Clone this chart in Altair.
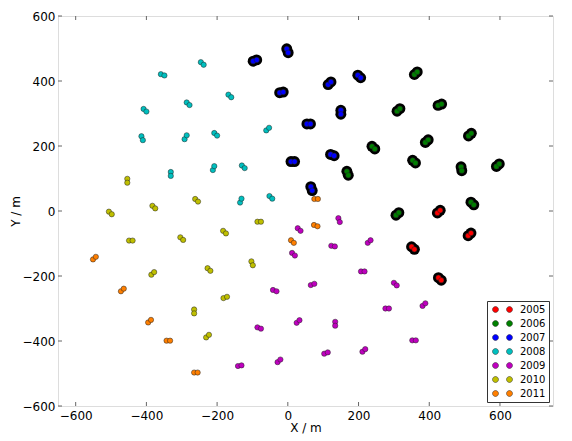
import altair as alt
import pandas as pd

# ---- data: two readings per station (x, y in metres) ----
years = ["2005", "2006", "2007", "2008", "2009", "2010", "2011"]
colors = ["#ff0000", "#008000", "#0000ff", "#00bfbf", "#bf00bf", "#bfbf00", "#ff7f00"]

x_2005 = [423, 431, 510, 518, 350, 358, 426, 434]
y_2005 = [-6, 2, -76, -68, -110, -118, -205, -213]

x_2006 = [358, 366, 309, 317, 425, 435, 238, 246, 389, 397, 511, 519,
          353, 361, 167, 171, 490, 492, 590, 598, 518, 526, 306, 314]
y_2006 = [420, 428, 307, 315, 325, 329, 199, 191, 211, 219, 231, 239,
          156, 148, 122, 110, 136, 124, 137, 145, 27, 19, -13, -5]

x_2007 = [-98, -88, -3, 1, -23, -13, 114, 122, 198, 206,
          150, 150, 54, 64, 9, 19, 121, 131, 65, 69]
y_2007 = [461, 465, 499, 487, 364, 366, 389, 397, 418, 410,
          310, 298, 268, 268, 152, 152, 174, 170, 75, 63]

x_2008 = [-246, -238, -359, -349, -168, -160, -286, -278, -408, -400, -61, -53, -414, -410,
          -292, -286, -208, -200, -331, -331, -212, -208, -130, -122, -135, -131, -52, -44]
y_2008 = [458, 450, 421, 417, 358, 350, 334, 326, 314, 306, 248, 256, 230, 218,
          221, 233, 240, 232, 120, 108, 126, 138, 140, 132, 26, 38, 46, 38]

x_2009 = [28, 36, 143, 147, 12, 20, 123, 133, 226, 234, 207, 217, 300, 308, -42, -32,
          65, 75, 276, 286, 381, 389, -86, -76, 25, 33, 134, 134, 352, 362, 103, 113,
          211, 219, -29, -21, -141, -131]
y_2009 = [-53, -61, -22, -34, -129, -137, -107, -109, -98, -90, -186, -186, -221, -229, -243, -247,
          -228, -224, -300, -300, -292, -284, -358, -362, -344, -336, -341, -353, -398, -398, -439, -435,
          -433, -425, -465, -457, -477, -475]

x_2010 = [-454, -454, -506, -498, -383, -375, -262, -254, -86, -76, -449, -439, -304, -296,
          -183, -175, -103, -99, -227, -219, -386, -378, -182, -172, -265, -265, -231, -223]
y_2010 = [99, 87, -2, -10, 16, 8, 37, 29, -33, -33, -91, -91, -81, -89,
          -61, -69, -155, -167, -176, -184, -196, -188, -268, -264, -303, -315, -389, -381]

x_2011 = [75, 85, 74, 84, 9, 17, -551, -543, -472, -464, -395, -387, -343, -333, -265, -255]
y_2011 = [37, 37, -43, -47, -90, -98, -149, -141, -247, -239, -343, -335, -399, -399, -497, -497]

tick_values = [-600, -400, -200, 0, 200, 400, 600]

xs = [x_2005, x_2006, x_2007, x_2008, x_2009, x_2010, x_2011]
ys = [y_2005, y_2006, y_2007, y_2008, y_2009, y_2010, y_2011]
rows = []
for yr, xl, yl in zip(years, xs, ys):
    for a, b in zip(xl, yl):
        rows.append({"year": yr, "x": a, "y": b})
df = pd.DataFrame(rows)
df_old = df[df["year"].isin(["2005", "2006", "2007"])]
ticks = pd.DataFrame({"t": tick_values})

W, H = 495, 390
frame = "#666666"

xscale = alt.Scale(domain=[-650, 750], nice=False, zero=False)
yscale = alt.Scale(domain=[-600, 600], nice=False, zero=False)

two_dots = ("M -0.6,0 A 0.6,0.6 0 1,0 0.6,0 A 0.6,0.6 0 1,0 -0.6,0 Z "
            "M 2.2,0 A 0.6,0.6 0 1,0 3.4,0 A 0.6,0.6 0 1,0 2.2,0 Z")

xaxis = alt.Axis(values=tick_values, ticks=False, grid=False, domain=False,
                 labelFontSize=12, labelColor="black", labelPadding=4,
                 labelFont="DejaVu Sans", title="X / m", titleFont="DejaVu Sans",
                 titleFontSize=12, titleFontWeight="normal", titleColor="black",
                 titlePadding=1)
yaxis = alt.Axis(values=tick_values, ticks=False, grid=False, domain=False,
                 labelFontSize=12, labelColor="black", labelPadding=3,
                 labelFont="DejaVu Sans", title="Y / m", titleFont="DejaVu Sans",
                 titleFontSize=12, titleFontWeight="normal", titleColor="black",
                 titlePadding=0)

blobs = alt.Chart(df_old).mark_circle(size=120, color="black", opacity=1).encode(
    x=alt.X("x:Q", scale=xscale, axis=xaxis),
    y=alt.Y("y:Q", scale=yscale, axis=yaxis),
)

dots = alt.Chart(df).mark_circle(size=28, stroke="#222222", strokeWidth=0.5, opacity=1).encode(
    x=alt.X("x:Q", scale=xscale),
    y=alt.Y("y:Q", scale=yscale),
    color=alt.Color("year:N", scale=alt.Scale(domain=years, range=colors),
                    legend=alt.Legend(title=None, orient="bottom-right", offset=4,
                                      symbolType=two_dots, symbolSize=100,
                                      symbolStrokeColor="#222222", symbolStrokeWidth=0.5,
                                      symbolOpacity=1,
                                      labelFont="DejaVu Sans", labelFontSize=10,
                                      labelColor="black", labelOffset=19,
                                      rowPadding=3, padding=3,
                                      strokeColor="#333333", fillColor="white")),
)

tick_bottom = alt.Chart(ticks).mark_rule(color=frame, strokeWidth=1).encode(
    x=alt.X("t:Q", scale=xscale), y=alt.value(H), y2=alt.value(H - 4))
tick_top = alt.Chart(ticks).mark_rule(color=frame, strokeWidth=1).encode(
    x=alt.X("t:Q", scale=xscale), y=alt.value(0), y2=alt.value(4))
tick_left = alt.Chart(ticks).mark_rule(color=frame, strokeWidth=1).encode(
    y=alt.Y("t:Q", scale=yscale), x=alt.value(0), x2=alt.value(4))
tick_right = alt.Chart(ticks).mark_rule(color=frame, strokeWidth=1).encode(
    y=alt.Y("t:Q", scale=yscale), x=alt.value(W), x2=alt.value(W - 4))

chart = alt.layer(tick_bottom, tick_top, tick_left, tick_right, blobs, dots).properties(
    width=W, height=H,
    autosize=alt.AutoSizeParams(type="none"),
    padding={"left": 50, "top": 8, "right": 10, "bottom": 28},
).configure_view(stroke=frame, strokeWidth=1.5).configure(background="white")

chart.save("out.html", embed_options={"renderer": "svg", "actions": False})
